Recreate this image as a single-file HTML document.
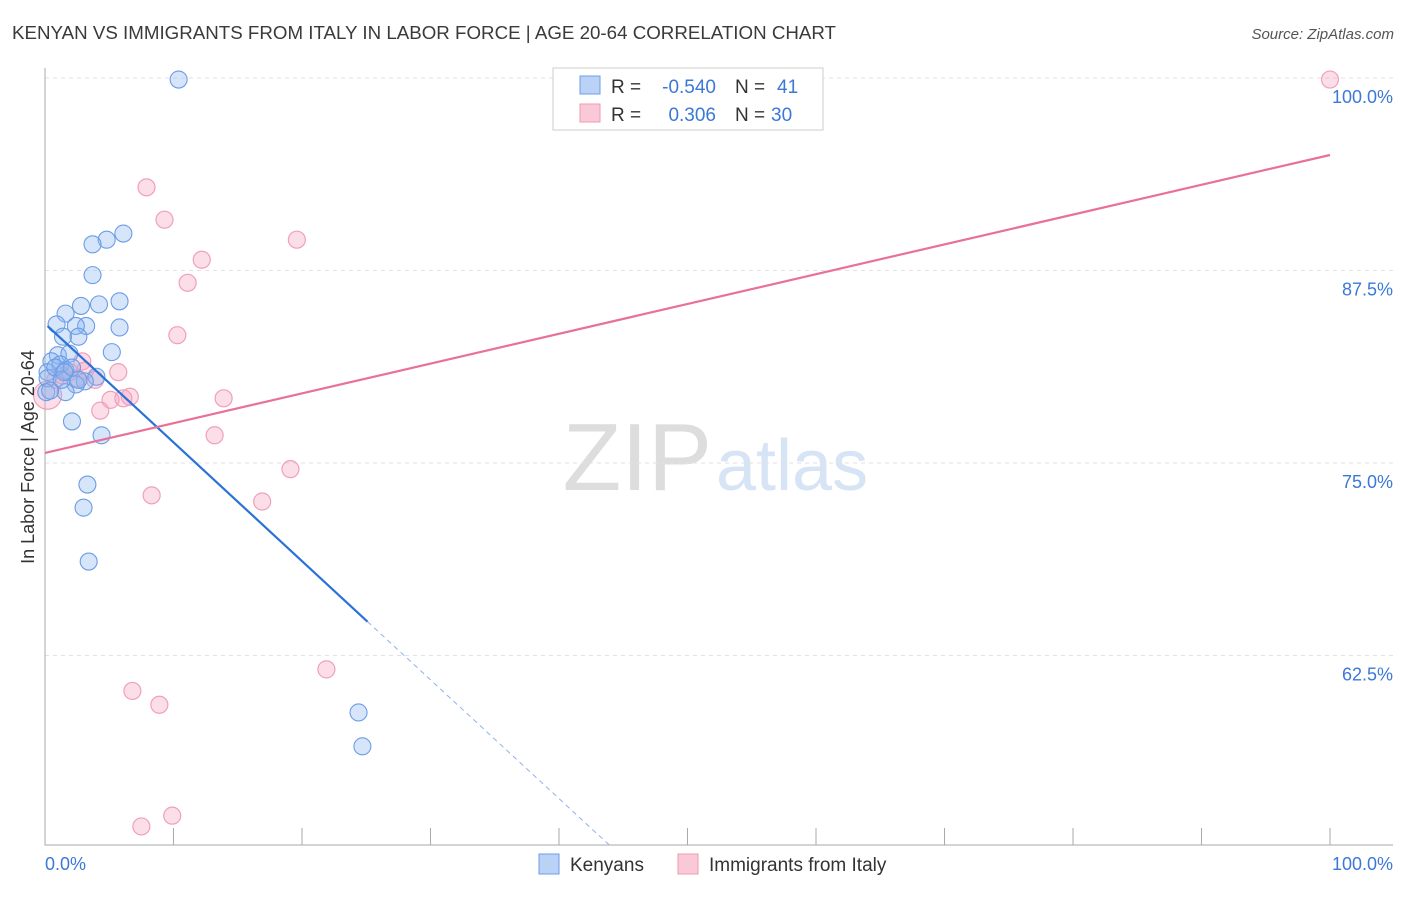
<!DOCTYPE html>
<html><head><meta charset="utf-8"><style>
body{margin:0;background:#fff;font-family:"Liberation Sans",sans-serif;}
svg text{font-family:"Liberation Sans",sans-serif;}
</style></head><body>
<svg id="chart" width="1406" height="892">
<text x="12" y="39" font-size="18" fill="#3a3a3a" textLength="824" lengthAdjust="spacingAndGlyphs">KENYAN VS IMMIGRANTS FROM ITALY IN LABOR FORCE | AGE 20-64 CORRELATION CHART</text>
<text x="1394" y="39" font-size="15" fill="#555" font-style="italic" text-anchor="end">Source: ZipAtlas.com</text>
<text x="712" y="490" font-size="96" fill="#ddd" text-anchor="end" font-family="Liberation Serif">ZIP</text>
<text x="716" y="490" font-size="72" fill="#d6e4f5">atlas</text>
<g id="grid"></g>
<g id="pts"></g>
<g id="lines"></g>
<text transform="translate(34,457) rotate(-90)" font-size="18" fill="#333" text-anchor="middle">In Labor Force | Age 20-64</text>
<text x="45" y="870" font-size="18" fill="#3b78d8">0.0%</text>
<text x="1393" y="870" font-size="18" fill="#3b78d8" text-anchor="end">100.0%</text>
<g>
<rect x="553" y="68" width="270" height="62" fill="#fff" stroke="#ccc"/>
<rect x="580" y="76" width="20" height="18" fill="#b9d2f5" stroke="#6d9ee8"/>
<rect x="580" y="104" width="20" height="18" fill="#f9c9d8" stroke="#ef9ab5"/>
<text x="611" y="93" font-size="19" fill="#333">R =</text>
<text x="716" y="93" font-size="19" fill="#3b78d8" text-anchor="end">-0.540</text>
<text x="735" y="93" font-size="19" fill="#333">N =</text>
<text x="777" y="93" font-size="19" fill="#3b78d8">41</text>
<text x="611" y="121" font-size="19" fill="#333">R =</text>
<text x="716" y="121" font-size="19" fill="#3b78d8" text-anchor="end">0.306</text>
<text x="735" y="121" font-size="19" fill="#333">N =</text>
<text x="771" y="121" font-size="19" fill="#3b78d8">30</text>
</g>
<g>
<rect x="539" y="854" width="20" height="20" fill="#b9d2f5" stroke="#6d9ee8"/>
<text x="570" y="871" font-size="19" fill="#333">Kenyans</text>
<rect x="678" y="854" width="20" height="20" fill="#f9c9d8" stroke="#ef9ab5"/>
<text x="709" y="871" font-size="19" fill="#333">Immigrants from Italy</text>
</g>
</svg>
<script>
const yTicks=[100,87.5,75,62.5];
const yTickLabels=["100.0%","87.5%","75.0%","62.5%"];
const xTicks=[0,10,20,30,40,50,60,70,80,90,100];
const kenyaX=[10.4,6.1,4.8,3.7,3.7,5.8,4.2,2.8,1.6,0.9,3.2,2.4,5.8,2.6,1.4,5.2,1.0,1.9,0.5,1.2,0.2,1.6,2.1,0.2,4.0,3.1,2.4,1.6,0.1,2.1,4.4,3.3,3.0,3.4,24.4,24.7,0.8,1.3,2.6,0.4,1.5];
const kenyaY=[99.9,89.9,89.5,89.2,87.2,85.5,85.3,85.2,84.7,84.0,83.9,83.9,83.8,83.2,83.2,82.2,82.0,82.1,81.6,81.4,80.9,81.0,81.2,80.5,80.6,80.3,80.1,79.6,79.6,77.7,76.8,73.6,72.1,68.6,58.8,56.6,81.2,80.4,80.4,79.7,80.9];
const italyX=[100,7.9,9.3,19.6,12.2,11.1,10.3,2.9,5.7,1.3,3.9,6.6,5.1,6.1,13.9,4.3,13.2,19.1,8.3,16.9,21.9,6.8,8.9,7.5,9.9,0.2,1.9,3.1,0.8,2.5];
const italyY=[99.9,92.9,90.8,89.5,88.2,86.7,83.3,81.6,80.9,80.7,80.4,79.3,79.1,79.2,79.2,78.4,76.8,74.6,72.9,72.5,61.6,60.2,59.3,51.4,52.1,79.4,80.9,81.0,80.4,80.5];
const kenyaTrend=[84.05,-0.771];
const italyTrend=[75.65,0.1935];
const NS="http://www.w3.org/2000/svg";
const X=v=>45+v*12.85, Y=v=>78+(100-v)*15.4;
function mk(tag,attrs,parent){const e=document.createElementNS(NS,tag);for(const k in attrs)e.setAttribute(k,attrs[k]);parent.appendChild(e);return e;}
const grid=document.getElementById('grid');
yTicks.forEach((t,i)=>{
 const l=mk('line',{x1:45,x2:1393,y1:Y(t),y2:Y(t),stroke:'#e2e2e2','stroke-dasharray':'4,4'},grid);
 
 
 const tx=mk('text',{x:1393,y:Y(t)+25,'font-size':18,fill:'#3b78d8','text-anchor':'end'},grid);
 tx.textContent=yTickLabels[i];
 
 
});
const ax=mk('path',{d:'M45,68V845H1393',stroke:'#aaa',fill:'none'},grid);


xTicks.forEach(t=>{const l=mk('line',{x1:X(t),x2:X(t),y1:828,y2:845,stroke:'#aaa'},grid);
 
 });
const pts=document.getElementById('pts');
italyX.forEach((x,i)=>{const c=mk('circle',{cx:X(x),cy:Y(italyY[i]),r:i==25?14:8.5,fill:'rgba(245,160,190,0.35)',stroke:'#f0a0ba','stroke-width':1.2},pts);
 
 });
kenyaX.forEach((x,i)=>{const c=mk('circle',{cx:X(x),cy:Y(kenyaY[i]),r:8.5,fill:'rgba(140,180,240,0.35)',stroke:'#6a9de6','stroke-width':1.1},pts);
 
 });
const lines=document.getElementById('lines');
const kf=x=>kenyaTrend[0]+kenyaTrend[1]*x, itf=x=>italyTrend[0]+italyTrend[1]*x;
const k1=mk('line',{x1:X(0.2),y1:Y(kf(0.2)),x2:X(25.1),y2:Y(kf(25.1)),stroke:'#2a72d8','stroke-width':2.2},lines);


const k2=mk('line',{x1:X(25.1),y1:Y(kf(25.1)),x2:X(44),y2:Y(kf(44)),stroke:'#8fb3e6','stroke-width':1,'stroke-dasharray':'5,4'},lines);


const p1=mk('line',{x1:X(0),y1:Y(itf(0)),x2:X(100),y2:Y(itf(100)),stroke:'#e8719a','stroke-width':2.2},lines);


</script>
</body></html>
